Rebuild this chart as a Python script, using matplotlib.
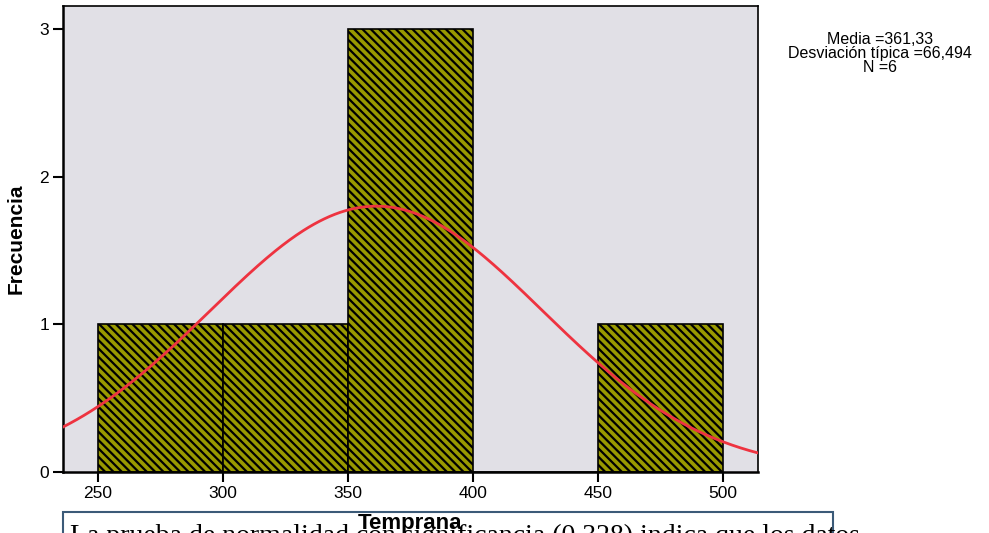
import numpy as np
import matplotlib
matplotlib.use("Agg")
import matplotlib.pyplot as plt
from matplotlib.patches import Rectangle

# histogram data
bin_edges = [250, 300, 350, 400, 450, 500]
counts = [1, 1, 3, 0, 1]
media = 361.33
desv = 66.494
n = 6

x_ticks = [250, 300, 350, 400, 450, 500]
y_ticks = [0, 1, 2, 3]

plt.rcParams["font.family"] = ["Liberation Sans", "DejaVu Sans"]
plt.rcParams["hatch.linewidth"] = 1.6
plt.rcParams["hatch.color"] = "black"

fig = plt.figure(figsize=(9.89, 5.33), dpi=100)
ax = fig.add_axes([63 / 989, 1 - 472 / 533, (758 - 63) / 989, (472 - 6) / 533])
ax.set_facecolor("#e1e0e6")

widths = np.diff(bin_edges)
ax.bar(bin_edges[:-1], counts, width=widths, align="edge",
       color="#999900", edgecolor="black", linewidth=1.2, hatch="\\\\\\\\", zorder=2)

# normal curve scaled to counts
xs = np.linspace(236, 514, 400)
ys = n * 50 * np.exp(-0.5 * ((xs - media) / desv) ** 2) / (desv * np.sqrt(2 * np.pi))
ax.plot(xs, ys, color="#ee3340", linewidth=2, zorder=3)

ax.set_xlim(236, 514)
ax.set_ylim(0, 3.155)
ax.set_xticks(x_ticks)
ax.set_yticks(y_ticks)
ax.tick_params(axis="both", direction="out", length=7, width=1.5, labelsize=12.5,
               color="black", pad=3)
for s in ax.spines.values():
    s.set_linewidth(1.2)
ax.spines["left"].set_linewidth(1.8)
ax.spines["bottom"].set_linewidth(1.8)

ax.set_ylabel("Frecuencia", fontsize=15, fontweight="bold", labelpad=10)

# stats block, one line at a time
stats = [
    f"Media ={media:.2f}".replace(".", ","),
    f"Desviación típica ={desv:.3f}".replace(".", ","),
    f"N ={n}",
]
for i, line in enumerate(stats):
    fig.text(880 / 989, 1 - (40 + 13.5 * i) / 533, line,
             ha="center", va="center", fontsize=11.5)

# cropped text box under the chart
box = Rectangle((63 / 989, -0.05), (833 - 63) / 989, 1 - 512 / 533 + 0.05,
                transform=fig.transFigure, facecolor="white", edgecolor="#3b5a78",
                linewidth=1.5, zorder=0)
fig.patches.append(box)
fig.text(70 / 989, 1 - 524 / 533,
         "La prueba de normalidad con significancia (0,328) indica que los datos",
         ha="left", va="top", fontsize=20, family=["Liberation Serif"], zorder=1)
fig.text(410 / 989, 1 - 523 / 533, "Temprana", ha="center", va="center",
         fontsize=16, fontweight="bold", zorder=2)

fig.savefig("out.png", dpi=100)
